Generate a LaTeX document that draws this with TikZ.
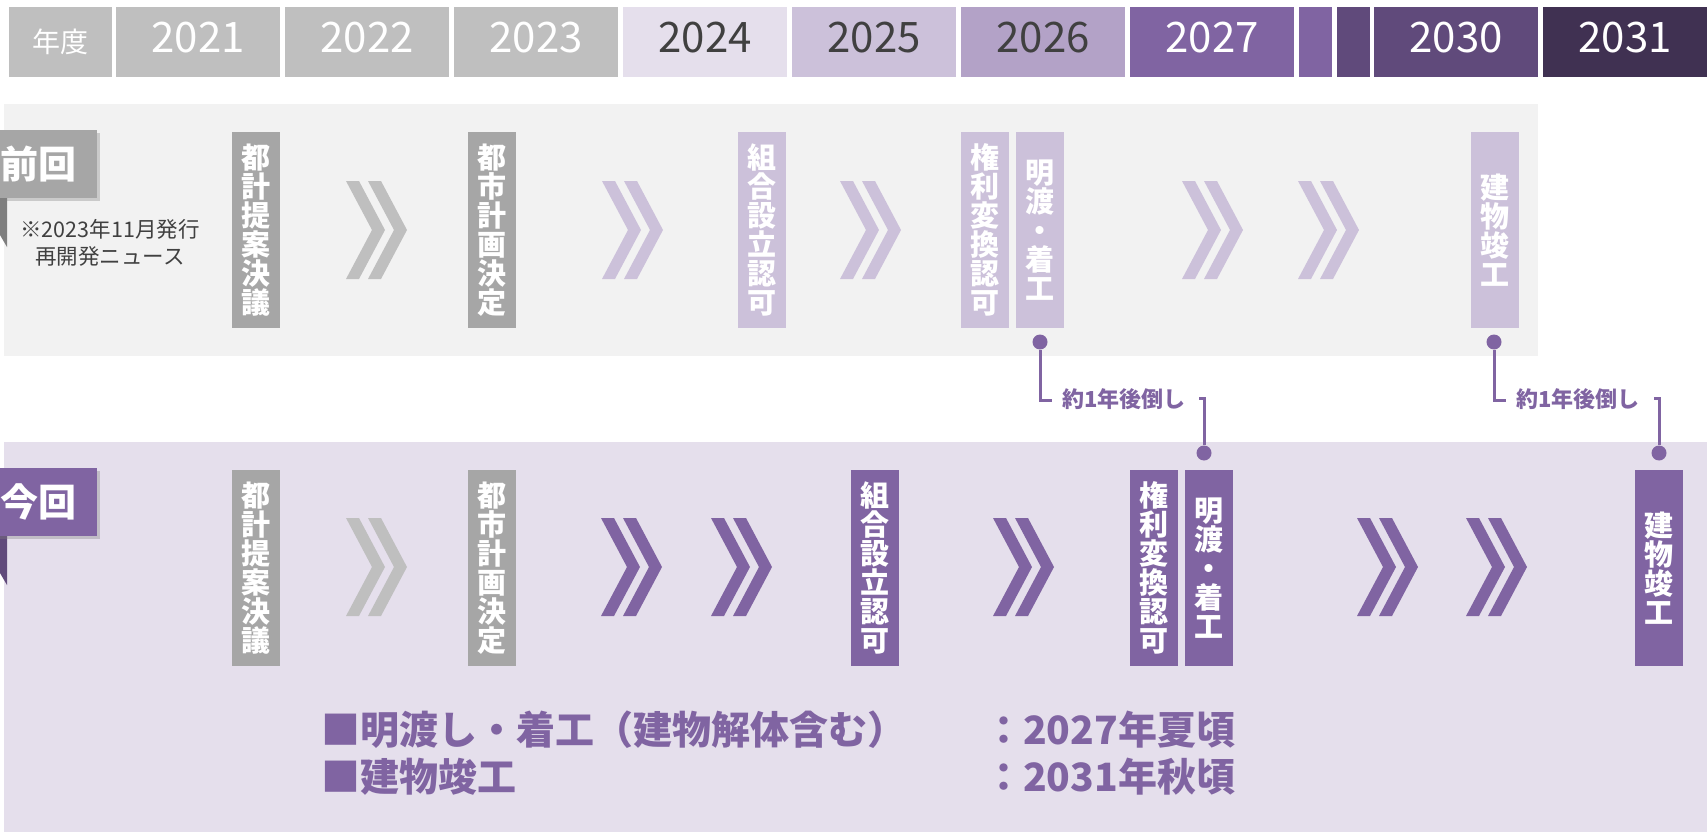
\documentclass[tikz,border=0pt]{standalone}
\usepackage{fontspec}
\setmainfont{Noto Sans CJK JP}
\usetikzlibrary{shadows}
\definecolor{hgray}{HTML}{BFBFBF}
\definecolor{pA}{HTML}{E5DFEC}
\definecolor{pB}{HTML}{CCC1DA}
\definecolor{pC}{HTML}{B3A2C7}
\definecolor{pD}{HTML}{8064A2}
\definecolor{pE}{HTML}{604A7B}
\definecolor{pF}{HTML}{403152}
\definecolor{tgray}{HTML}{A6A6A6}
\definecolor{panelgray}{HTML}{F2F2F2}
\definecolor{darktxt}{HTML}{404040}
\definecolor{tailgray}{HTML}{7F7F7F}
\tikzset{
  chev/.pic={
    \fill (0,0)--(13,0)--(39,49)--(13,98)--(0,98)--(26,49)--cycle;
    \fill (22,0)--(35,0)--(61,49)--(35,98)--(22,98)--(48,49)--cycle;
  }
}
\begin{document}
\begin{tikzpicture}[x=1pt,y=-1pt,
  hdr/.style={minimum height=70pt, inner sep=0pt},
  yr/.style={hdr, minimum width=164pt, text height=31pt, text depth=9pt,
    font=\fontsize{42}{48}\selectfont, text=white},
  task/.style={minimum width=48pt, minimum height=196pt, inner sep=0pt,
    align=center, text=white, font=\bfseries\fontsize{29}{29}\selectfont},
  lbl/.style={anchor=east, minimum height=68pt, inner xsep=20pt, inner ysep=0pt,
    text=white, font=\bfseries\fontsize{38}{40}\selectfont,
    drop shadow={shadow xshift=3pt, shadow yshift=-3pt, opacity=0.35}},
  dotn/.style={circle, fill=pD, minimum size=15pt, inner sep=0pt},
  conn/.style={draw=pD, line width=3pt},
  note/.style={anchor=west, inner sep=0pt, text=pD,
    font=\bfseries\fontsize{22}{24}\selectfont},
  sumtxt/.style={anchor=west, inner sep=0pt, text=pD,
    font=\bfseries\fontsize{39}{42}\selectfont}
]
\useasboundingbox (0,0) rectangle (1707,832);
\fill[white] (0,0) rectangle (1707,832);

% header
\node[hdr, fill=hgray, minimum width=103pt, text=white,
  font=\fontsize{28}{32}\selectfont] (hY) at (60.5,42) {年度};
\node[yr, fill=hgray] (h21) at (198,42) {2021};
\node[yr, fill=hgray] (h22) at (367,42) {2022};
\node[yr, fill=hgray] (h23) at (536,42) {2023};
\node[yr, fill=pA, text=darktxt] (h24) at (705,42) {2024};
\node[yr, fill=pB, text=darktxt] (h25) at (874,42) {2025};
\node[yr, fill=pC, text=darktxt] (h26) at (1043,42) {2026};
\node[yr, fill=pD] (h27) at (1212,42) {2027};
\node[hdr, fill=pD, minimum width=33pt] (hs1) at (1315.5,42) {};
\node[hdr, fill=pE, minimum width=33pt] (hs2) at (1353.5,42) {};
\node[yr, fill=pE] (h30) at (1456,42) {2030};
\node[yr, fill=pF] (h31) at (1625,42) {2031};

% panels
\fill[panelgray] (4,104) rectangle (1538,356);
\fill[pA] (4,442) rectangle (1707,832);

% ribbon labels
\fill[tailgray] (0,198) -- (7,198) -- (7,247) -- (0,235) -- cycle;
\node[lbl, fill=tgray] (lprev) at (97,164) {前回};
\node[anchor=center, align=center, inner sep=0pt, text=darktxt,
  font=\fontsize{21.5}{27}\selectfont] (src) at (110,243)
  {※2023年11月発行\\再開発ニュース};

\fill[pE] (0,536) -- (7,536) -- (7,585) -- (0,573) -- cycle;
\node[lbl, fill=pD] (lnow) at (97,502) {今回};

% previous schedule
\node[task, fill=tgray] (p1) at (256,230) {都\\計\\提\\案\\決\\議};
\node[task, fill=tgray] (p2) at (491.5,230) {都\\市\\計\\画\\決\\定};
\node[task, fill=pB] (p3) at (761.5,230) {組\\合\\設\\立\\認\\可};
\node[task, fill=pB] (p4) at (985,230) {権\\利\\変\\換\\認\\可};
\node[task, fill=pB] (p5) at (1039.5,230) {明\\渡\\・\\着\\工};
\node[task, fill=pB] (p6) at (1495,230) {建\\物\\竣\\工};
\pic[color=hgray] at (346,181) {chev};
\pic[color=pB] at (602,181) {chev};
\pic[color=pB] at (840,181) {chev};
\pic[color=pB] at (1182,181) {chev};
\pic[color=pB] at (1298,181) {chev};

% current schedule
\node[task, fill=tgray] (n1) at (256,568) {都\\計\\提\\案\\決\\議};
\node[task, fill=tgray] (n2) at (491.5,568) {都\\市\\計\\画\\決\\定};
\node[task, fill=pD] (n3) at (874.5,568) {組\\合\\設\\立\\認\\可};
\node[task, fill=pD] (n4) at (1153.5,568) {権\\利\\変\\換\\認\\可};
\node[task, fill=pD] (n5) at (1209,568) {明\\渡\\・\\着\\工};
\node[task, fill=pD] (n6) at (1659,568) {建\\物\\竣\\工};
\pic[color=hgray] at (346,518) {chev};
\pic[color=pD] at (601,518) {chev};
\pic[color=pD] at (711,518) {chev};
\pic[color=pD] at (993,518) {chev};
\pic[color=pD] at (1357,518) {chev};
\pic[color=pD] at (1466,518) {chev};

% delay annotations
\node[dotn] (d1) at (1040,342) {};
\node[dotn] (d2) at (1204,453) {};
\node[dotn] (d3) at (1494,342) {};
\node[dotn] (d4) at (1659,453) {};
\coordinate (c1) at (1052,400);
\coordinate (c2) at (1199,398);
\coordinate (c3) at (1506,400);
\coordinate (c4) at (1654,398);
\draw[conn] (d1) |- (c1);
\draw[conn] (c2) -| (d2);
\draw[conn] (d3) |- (c3);
\draw[conn] (c4) -| (d4);
\node[note] (a1) at (1062,399) {約1年後倒し};
\node[note] (a2) at (1516,399) {約1年後倒し};

% summary
\node[sumtxt] (s1) at (321,730) {■明渡し・着工（建物解体含む）};
\node[sumtxt] (s1d) at (984,730) {：2027年夏頃};
\node[sumtxt] (s2) at (321,777) {■建物竣工};
\node[sumtxt] (s2d) at (984,777) {：2031年秋頃};
\end{tikzpicture}
\end{document}
